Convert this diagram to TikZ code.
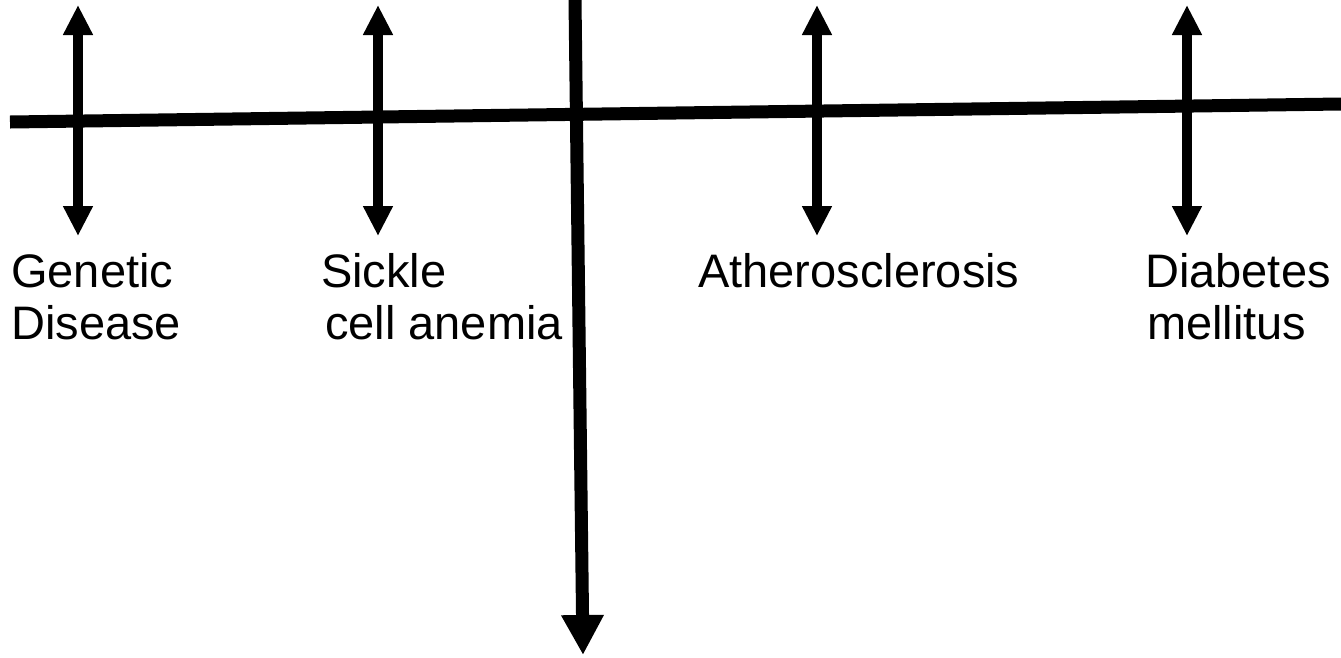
\documentclass[tikz,border=0pt]{standalone}
\usepackage{fontspec}
\setmainfont{Liberation Sans}
\usetikzlibrary{arrows.meta}

\begin{document}
\begin{tikzpicture}[
			x=1pt,y=-1pt,
			every node/.style={font=\fontsize{47}{52}\selectfont,align=left,inner sep=0pt,anchor=base west},
			axis/.style={line width=13pt,draw=black},
			twoway/.style={{Triangle[length=30pt,width=28pt]}-{Triangle[length=30pt,width=28pt]},line width=10pt,draw=black},
			down/.style={-{Triangle[length=40pt,width=40pt]}}
			]
			\useasboundingbox (0,0) rectangle (1341,657);
			% axes
			\coordinate (west) at (10,122);
			\coordinate (east) at (1341,104);
			\coordinate (top) at (575,0);
			\coordinate (bottom) at (583,655);
			\draw[axis] (west)--(east);
			\draw[axis,down] (top)--(bottom);
			% double arrows
			\coordinate (g1) at (78,5);   \coordinate (g2) at (78,236);
			\coordinate (s1) at (378,5);  \coordinate (s2) at (378,236);
			\coordinate (a1) at (817,5);  \coordinate (a2) at (817,236);
			\coordinate (d1) at (1187,5); \coordinate (d2) at (1187,236);
			\draw[twoway] (g1)--(g2);
			\draw[twoway] (s1)--(s2);
			\draw[twoway] (a1)--(a2);
			\draw[twoway] (d1)--(d2);
			% labels (base = last line)
			\node (gen) at (11,339) {Genetic\\Disease};
			\node (sic) at (321,339) {Sickle\\\hspace{4pt}cell anemia};
			\node (ath) at (698,287) {Atherosclerosis};
			\node (dia) at (1145,339) {Diabetes\\\hspace{2pt}mellitus};
		\end{tikzpicture}
\end{document}
